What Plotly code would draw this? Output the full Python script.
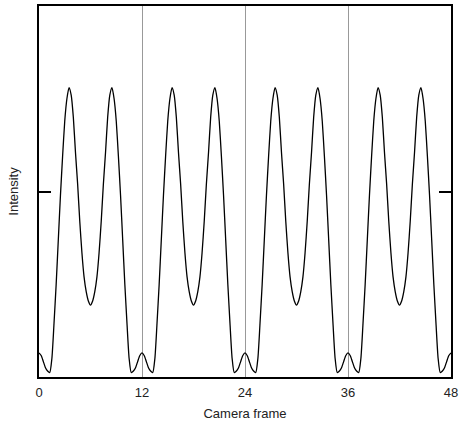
import plotly.graph_objects as go

# Camera frame positions (quarter-frame sampling)
frames = [i * 0.25 for i in range(0, 193)]

# Intensity (relative units, 0..1)
intensity = [
    # frames 0 - 12
    0.065, 0.058, 0.042, 0.025, 0.016, 0.012, 0.050, 0.145, 0.250, 0.370, 0.490, 0.595,
    0.690, 0.750, 0.780, 0.760, 0.700, 0.605, 0.520, 0.420, 0.335, 0.270, 0.230, 0.205,
    0.194, 0.205, 0.230, 0.270, 0.335, 0.420, 0.520, 0.605, 0.700, 0.760, 0.780, 0.750,
    0.690, 0.595, 0.490, 0.370, 0.250, 0.145, 0.050, 0.012, 0.016, 0.025, 0.042, 0.058,
    # frames 12 - 24
    0.065, 0.058, 0.042, 0.025, 0.016, 0.012, 0.050, 0.145, 0.250, 0.370, 0.490, 0.595,
    0.690, 0.750, 0.780, 0.760, 0.700, 0.605, 0.520, 0.420, 0.335, 0.270, 0.230, 0.205,
    0.194, 0.205, 0.230, 0.270, 0.335, 0.420, 0.520, 0.605, 0.700, 0.760, 0.780, 0.750,
    0.690, 0.595, 0.490, 0.370, 0.250, 0.145, 0.050, 0.012, 0.016, 0.025, 0.042, 0.058,
    # frames 24 - 36
    0.065, 0.058, 0.042, 0.025, 0.016, 0.012, 0.050, 0.145, 0.250, 0.370, 0.490, 0.595,
    0.690, 0.750, 0.780, 0.760, 0.700, 0.605, 0.520, 0.420, 0.335, 0.270, 0.230, 0.205,
    0.194, 0.205, 0.230, 0.270, 0.335, 0.420, 0.520, 0.605, 0.700, 0.760, 0.780, 0.750,
    0.690, 0.595, 0.490, 0.370, 0.250, 0.145, 0.050, 0.012, 0.016, 0.025, 0.042, 0.058,
    # frames 36 - 48
    0.065, 0.058, 0.042, 0.025, 0.016, 0.012, 0.050, 0.145, 0.250, 0.370, 0.490, 0.595,
    0.690, 0.750, 0.780, 0.760, 0.700, 0.605, 0.520, 0.420, 0.335, 0.270, 0.230, 0.205,
    0.194, 0.205, 0.230, 0.270, 0.335, 0.420, 0.520, 0.605, 0.700, 0.760, 0.780, 0.750,
    0.690, 0.595, 0.490, 0.370, 0.250, 0.145, 0.050, 0.012, 0.016, 0.025, 0.042, 0.058,
    0.065,
]

x_tick_vals = [0, 12, 24, 36, 48]
x_tick_text = ["0", "12", "24", "36", "48"]
y_tick_vals = [0, 0.5, 1]

fig = go.Figure(
    go.Scatter(
        x=frames,
        y=intensity,
        mode="lines",
        line=dict(color="#000000", width=1.3, shape="spline", smoothing=0.6),
        hoverinfo="skip",
    )
)

font_family = "Liberation Sans, Arial, sans-serif"

fig.update_layout(
    width=462,
    height=429,
    margin=dict(l=39, r=11, t=6, b=52, autoexpand=False),
    paper_bgcolor="white",
    plot_bgcolor="white",
    showlegend=False,
    font=dict(family=font_family, size=13, color="#222222"),
)

fig.update_xaxes(
    range=[0, 48],
    tickvals=x_tick_vals,
    ticktext=x_tick_text,
    ticks="",
    ticklabelstandoff=3,
    showgrid=True,
    gridcolor="#999999",
    gridwidth=1,
    zeroline=False,
    showline=True,
    linecolor="#000000",
    linewidth=1.5,
    mirror=True,
    automargin=False,
    title=dict(text="Camera frame", font=dict(size=13), standoff=10),
    tickfont=dict(size=13),
)

fig.update_yaxes(
    range=[0, 1],
    tickvals=y_tick_vals,
    showticklabels=False,
    ticks="inside",
    ticklen=12,
    tickwidth=1.5,
    tickcolor="#000000",
    showgrid=False,
    zeroline=False,
    showline=True,
    linecolor="#000000",
    linewidth=1.5,
    mirror="allticks",
    automargin=False,
    title=dict(text="Intensity", font=dict(size=13), standoff=16),
)

fig.write_html(
    "out.html",
    config={"displayModeBar": False},
    post_script="document.body.style.margin='0';document.body.style.padding='0';",
)
